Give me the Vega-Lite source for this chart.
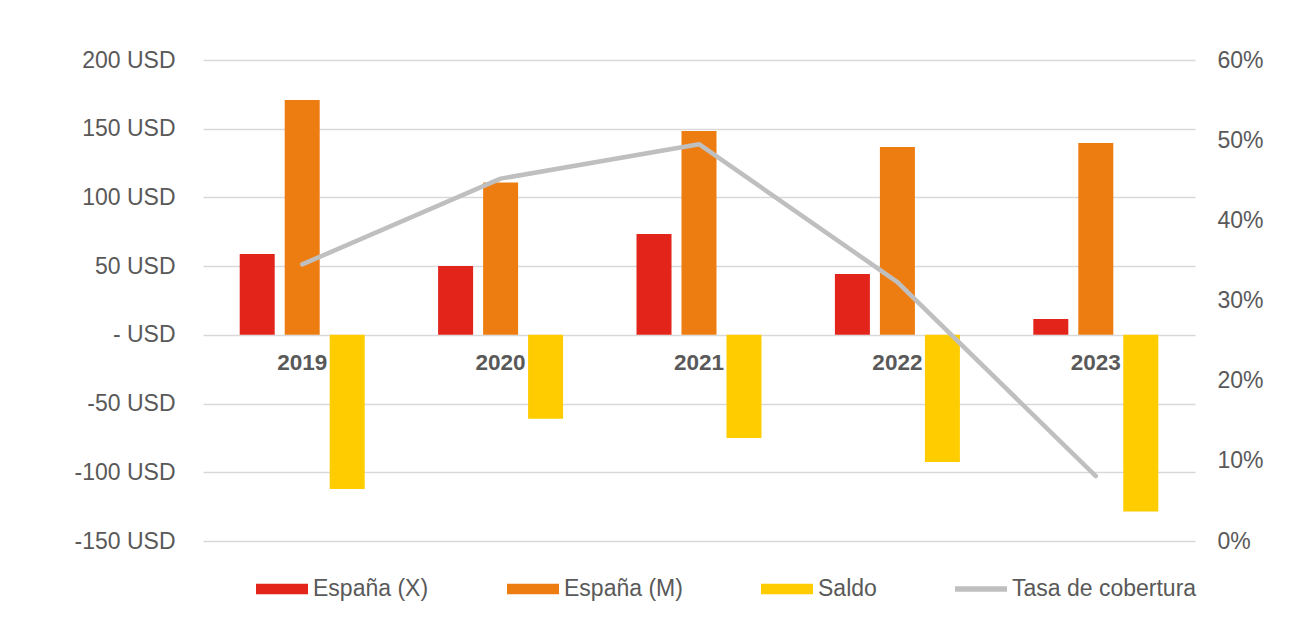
{
  "$schema": "https://vega.github.io/schema/vega-lite/v6.json",
  "autosize": {"type": "none"},
  "width": 992,
  "height": 481,
  "padding": {"left": 203, "top": 60, "right": 102, "bottom": 98},
  "background": "white",
  "config": {
    "view": {"stroke": null},
    "font": "Liberation Sans",
    "axis": {"labelColor": "#595959", "labelFont": "Liberation Sans", "labelFontSize": 23, "ticks": false, "domain": false, "title": null},
    "legend": {"labelColor": "#595959", "labelFont": "Liberation Sans", "labelFontSize": 23, "labelLimit": 0}
  },
  "layer": [
    {
      "data": {"values": [
        {"year": "2019", "serie": "España (X)", "value": 58.9},
        {"year": "2019", "serie": "España (M)", "value": 170.9},
        {"year": "2019", "serie": "Saldo", "value": -112.1},
        {"year": "2020", "serie": "España (X)", "value": 50.1},
        {"year": "2020", "serie": "España (M)", "value": 110.8},
        {"year": "2020", "serie": "Saldo", "value": -61.0},
        {"year": "2021", "serie": "España (X)", "value": 73.4},
        {"year": "2021", "serie": "España (M)", "value": 148.3},
        {"year": "2021", "serie": "Saldo", "value": -75.0},
        {"year": "2022", "serie": "España (X)", "value": 44.2},
        {"year": "2022", "serie": "España (M)", "value": 136.7},
        {"year": "2022", "serie": "Saldo", "value": -92.5},
        {"year": "2023", "serie": "España (X)", "value": 11.6},
        {"year": "2023", "serie": "España (M)", "value": 139.6},
        {"year": "2023", "serie": "Saldo", "value": -128.5}
      ]},
      "mark": {"type": "bar"},
      "encoding": {
        "x": {
          "field": "year", "type": "nominal",
          "scale": {"paddingInner": 0.37, "paddingOuter": 0.185},
          "axis": {"orient": "bottom", "offset": -206, "labelFontWeight": "bold", "labelFontSize": 22.5, "labelPadding": 16, "labelAngle": 0, "grid": false}
        },
        "xOffset": {
          "field": "serie", "type": "nominal",
          "scale": {"domain": ["España (X)", "España (M)", "Saldo"], "paddingInner": 0.222, "paddingOuter": 0}
        },
        "y": {
          "field": "value", "type": "quantitative",
          "scale": {"domain": [-150, 200], "nice": false},
          "axis": {
            "values": [-150, -100, -50, 0, 50, 100, 150, 200],
            "grid": true, "gridColor": "#D9D9D9", "gridWidth": 1.5,
            "labelExpr": "datum.value == 0 ? '- USD' : datum.value + ' USD'",
            "labelPadding": 28
          }
        },
        "color": {
          "field": "serie", "type": "nominal",
          "scale": {"domain": ["España (X)", "España (M)", "Saldo", "Tasa de cobertura"], "range": ["#E3241B", "#EE7D11", "#FFCC00", "#BFBFBF"]},
          "legend": {
            "title": null,
            "orient": "none",
            "direction": "horizontal",
            "columns": 4,
            "legendX": 53,
            "legendY": 503,
            "columnPadding": 78,
            "labelOffset": 5,
            "symbolSize": 2704,
            "encode": {
              "symbols": {
                "update": {
                  "shape": {"signal": "datum.value == 'Tasa de cobertura' ? 'M-1,-0.11H1V0.11H-1Z' : 'M-1,-0.2H1V0.2H-1Z'"},
                  "fill": {"scale": "color", "field": "value"},
                  "stroke": {"value": "transparent"},
                  "strokeWidth": {"value": 0},
                  "opacity": {"value": 1}
                }
              }
            }
          }
        }
      }
    },
    {
      "data": {"values": [
        {"year": "2019", "tasa": 0.345},
        {"year": "2020", "tasa": 0.452},
        {"year": "2021", "tasa": 0.495},
        {"year": "2022", "tasa": 0.323},
        {"year": "2023", "tasa": 0.081}
      ]},
      "mark": {"type": "line", "strokeWidth": 4.5, "strokeCap": "round", "strokeJoin": "round"},
      "encoding": {
        "x": {"field": "year", "type": "nominal"},
        "y": {
          "field": "tasa", "type": "quantitative",
          "scale": {"domain": [0, 0.6], "nice": false},
          "axis": {"orient": "right", "format": ".0%", "values": [0, 0.1, 0.2, 0.3, 0.4, 0.5, 0.6], "grid": false, "labelPadding": 22}
        },
        "color": {"datum": "Tasa de cobertura"}
      }
    }
  ],
  "resolve": {"scale": {"y": "independent"}}
}
